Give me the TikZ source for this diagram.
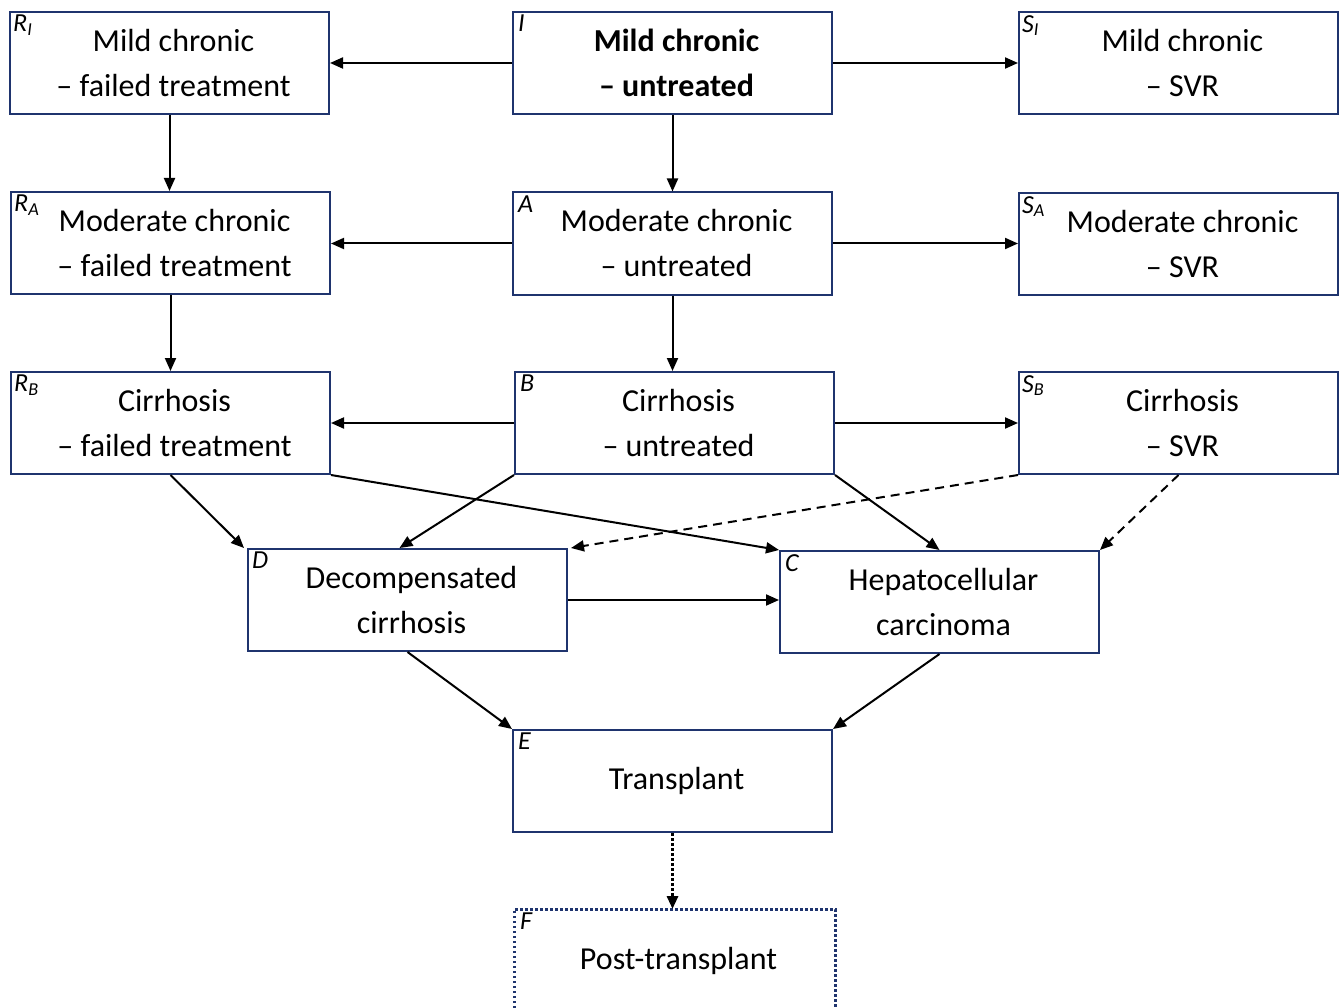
\documentclass[tikz,border=0pt]{standalone}
\usepackage{fontspec}
\setmainfont{Carlito}
\usetikzlibrary{arrows.meta}
\definecolor{boxblue}{RGB}{31,52,110}
\tikzset{
  stbox/.style={draw=boxblue, line width=2pt, minimum width=319pt, minimum height=102pt,
    align=center, inner sep=0pt, font=\fontsize{32}{45}\selectfont},
  lbl/.style={anchor=north west, inner sep=0pt, font=\fontsize{26}{26}\selectfont\itshape},
  conn/.style={line width=2pt, -{Triangle[length=13pt,width=11pt]}},
  dconn/.style={conn, dash pattern=on 9pt off 6pt},
  tconn/.style={line width=3pt, dash pattern=on 2.5pt off 2.5pt, -{Triangle[length=13pt,width=11pt]}}
}
\newcommand{\sh}{\hspace*{8pt}}
\begin{document}
\begin{tikzpicture}[x=1pt,y=-1pt]
\clip (0,0) rectangle (1340,1008);
\fill[white] (0,0) rectangle (1340,1008);
% row 1
\node[stbox] (RI) at (169.5,63) {\sh Mild chronic\\\sh – failed treatment};
\node[stbox, font=\fontsize{32}{45}\selectfont\bfseries] (I) at (672.5,63) {\sh Mild chronic\\\sh – untreated};
\node[stbox] (SI) at (1178.5,63) {\sh Mild chronic\\\sh – SVR};
% row 2
\node[stbox] (RA) at (170.5,243) {\sh Moderate chronic\\\sh – failed treatment};
\node[stbox] (A) at (672.5,243.5) {\sh Moderate chronic\\\sh – untreated};
\node[stbox] (SA) at (1178.5,244) {\sh Moderate chronic\\\sh – SVR};
% row 3
\node[stbox] (RB) at (170.5,423) {\sh Cirrhosis\\\sh – failed treatment};
\node[stbox] (B) at (674.5,423) {\sh Cirrhosis\\\sh – untreated};
\node[stbox] (SB) at (1178.5,423) {\sh Cirrhosis\\\sh – SVR};
% row 4
\node[stbox] (D) at (407.5,600) {\sh Decompensated\\\sh cirrhosis};
\node[stbox] (C) at (939.5,602) {\sh Hepatocellular\\\sh carcinoma};
% row 5
\node[stbox] (E) at (672.5,781) {\sh Transplant};
\node[stbox, draw=none, minimum height=102pt] (F) at (674.5,961) {\sh Post-transplant};
\draw[boxblue, line width=3pt, dash pattern=on 2.5pt off 2.5pt] (F.south west) -- (F.north west) -- (F.north east) -- (F.south east);
% labels
\node[lbl] (lRI) at ([shift={(4,4)}]RI.north west) {R\textsubscript{I}};
\node[lbl] (lI) at ([shift={(6,4)}]I.north west) {I};
\node[lbl] (lSI) at ([shift={(4,4)}]SI.north west) {S\textsubscript{I}};
\node[lbl] (lRA) at ([shift={(4,4)}]RA.north west) {R\textsubscript{A}};
\node[lbl] (lA) at ([shift={(6,4)}]A.north west) {A};
\node[lbl] (lSA) at ([shift={(4,4)}]SA.north west) {S\textsubscript{A}};
\node[lbl] (lRB) at ([shift={(4,4)}]RB.north west) {R\textsubscript{B}};
\node[lbl] (lB) at ([shift={(6,4)}]B.north west) {B};
\node[lbl] (lSB) at ([shift={(4,4)}]SB.north west) {S\textsubscript{B}};
\node[lbl] (lD) at ([shift={(5,4)}]D.north west) {D};
\node[lbl] (lC) at ([shift={(6,4)}]C.north west) {C};
\node[lbl] (lE) at ([shift={(6,4)}]E.north west) {E};
\node[lbl] (lF) at ([shift={(6,4)}]F.north west) {F};
% connectors
\draw[conn] (I.west) -- (RI.east);
\draw[conn] (I.east) -- (SI.west);
\draw[conn] (I.south) -- (A.north);
\draw[conn] (RI.south) -- (RI.south |- RA.north);
\draw[conn] (A.west) -- (A.west -| RA.east);
\draw[conn] (A.east) -- (A.east -| SA.west);
\draw[conn] (A.south) -- (A.south |- B.north);
\draw[conn] (RA.south) -- (RB.north);
\draw[conn] (B.west) -- (RB.east);
\draw[conn] (B.east) -- (SB.west);
\draw[conn] (RB.south) -- ([xshift=-3pt]D.north west);
\draw[conn] (RB.south east) -- (C.north west);
\draw[conn] (B.south west) -- ([xshift=-8pt]D.north);
\draw[conn] (B.south east) -- (C.north);
\draw[dconn] (SB.south west) -- ([xshift=3pt]D.north east);
\draw[dconn] (SB.south) -- (C.north east);
\draw[conn] (D.east) -- (D.east -| C.west);
\draw[conn] (D.south) -- (E.north west);
\draw[conn] (C.south) -- (E.north east);
\draw[tconn] (E.south) -- (E.south |- F.north);
\end{tikzpicture}
\end{document}
